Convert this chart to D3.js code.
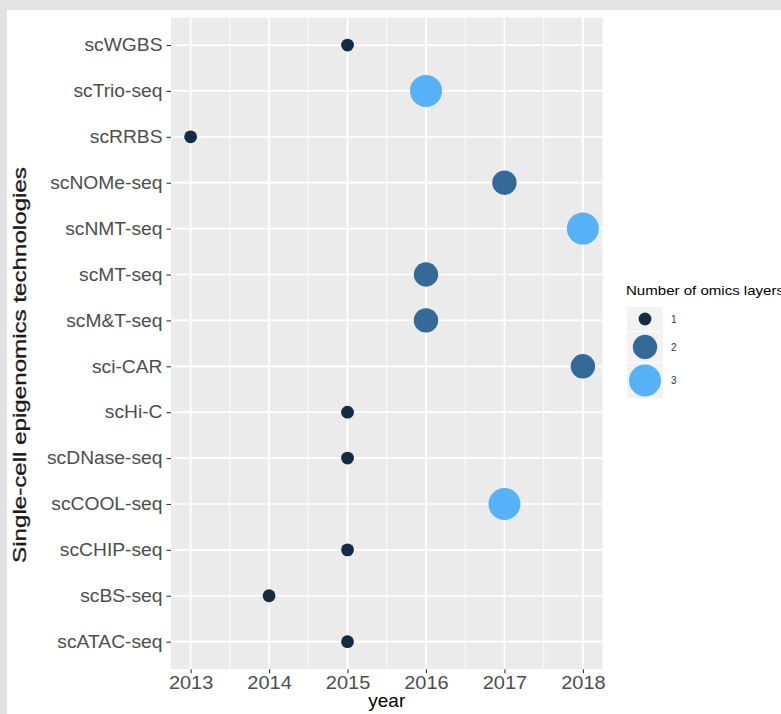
<!DOCTYPE html>
<html>
<head>
<meta charset="utf-8">
<script src="https://cdn.jsdelivr.net/npm/d3@7"></script>
<style>
  body { margin: 0; background: #ffffff; }
  svg { display: block; font-family: "Liberation Sans", Arial, sans-serif; }
</style>
</head>
<body>
<svg id="chart" width="781" height="714"></svg>
<script>
// ---- data ----
const technologies = ["scWGBS","scTrio-seq","scRRBS","scNOMe-seq","scNMT-seq","scMT-seq","scM&T-seq","sci-CAR","scHi-C","scDNase-seq","scCOOL-seq","scCHIP-seq","scBS-seq","scATAC-seq"];
const years        = [2015, 2016, 2013, 2017, 2018, 2016, 2016, 2018, 2015, 2015, 2017, 2015, 2014, 2015];
const omicsLayers  = [1, 3, 1, 2, 3, 2, 2, 2, 1, 1, 3, 1, 1, 1];
const xTicks = [2013, 2014, 2015, 2016, 2017, 2018];
const legendValues = [1, 2, 3];

const data = technologies.map((t, i) => ({ tech: t, year: years[i], layers: omicsLayers[i] }));

const svg = d3.select("#chart");

// frame (grey border of the picture)
svg.append("rect").attr("x", 0).attr("y", 0).attr("width", 781).attr("height", 10).attr("fill", "#e3e3e3");
svg.append("rect").attr("x", 0).attr("y", 0).attr("width", 7).attr("height", 714).attr("fill", "#e3e3e3");

const panel = { left: 171, right: 602.5, top: 17.5, bottom: 669.2 };

const x = d3.scaleLinear().domain([2012.75, 2018.25]).range([panel.left, panel.right]);
const y = d3.scalePoint().domain(technologies).range([panel.top, panel.bottom]).padding(0.6);
const area = d3.scaleLinear().domain([1, 3]).range([6.4 * 6.4, 16 * 16]);
const rad = v => Math.sqrt(area(v));
const color = d3.scaleLinear().domain([1, 3]).range(["#132B43", "#56B1F7"]).interpolate(d3.interpolateLab);

// panel background
svg.append("rect")
  .attr("x", panel.left).attr("y", panel.top)
  .attr("width", panel.right - panel.left).attr("height", panel.bottom - panel.top)
  .attr("fill", "#ebebeb");

const grid = svg.append("g");
// minor vertical grid
const minor = d3.range(2013.5, 2018, 1);
grid.selectAll("line.minor").data(minor).join("line")
  .attr("x1", d => x(d)).attr("x2", d => x(d))
  .attr("y1", panel.top).attr("y2", panel.bottom)
  .attr("stroke", "#ffffff").attr("stroke-width", 0.8);
// major vertical grid
grid.selectAll("line.vmajor").data(xTicks).join("line")
  .attr("x1", d => x(d)).attr("x2", d => x(d))
  .attr("y1", panel.top).attr("y2", panel.bottom)
  .attr("stroke", "#ffffff").attr("stroke-width", 1.7);
// major horizontal grid
grid.selectAll("line.hmajor").data(technologies).join("line")
  .attr("x1", panel.left).attr("x2", panel.right)
  .attr("y1", d => y(d)).attr("y2", d => y(d))
  .attr("stroke", "#ffffff").attr("stroke-width", 1.7);

// axes via d3 axis generators
const xAxis = svg.append("g")
  .attr("transform", `translate(0,${panel.bottom})`)
  .call(d3.axisBottom(x).tickValues(xTicks).tickFormat(d3.format("d")).tickSize(4).tickPadding(3));
xAxis.select(".domain").remove();
xAxis.selectAll(".tick line").attr("stroke", "#333333").attr("stroke-width", 1.1);
xAxis.selectAll(".tick text")
  .attr("fill", "#4d4d4d").attr("font-size", "18.5px")
  .attr("font-family", "Liberation Sans, Arial, sans-serif")
  .attr("dy", "0.71em")
  .attr("transform", "scale(1.08,1)");

const yAxis = svg.append("g")
  .attr("transform", `translate(${panel.left},0)`)
  .call(d3.axisLeft(y).tickSize(4.5).tickPadding(4));
yAxis.select(".domain").remove();
yAxis.selectAll(".tick line").attr("stroke", "#333333").attr("stroke-width", 1.1);
yAxis.selectAll(".tick text")
  .attr("fill", "#4d4d4d").attr("font-size", "18px")
  .attr("font-family", "Liberation Sans, Arial, sans-serif")
  .attr("transform", "translate(-8.5,0) scale(1.07,1)")
  .attr("x", null);

// points
svg.append("g").selectAll("circle").data(data).join("circle")
  .attr("cx", d => x(d.year))
  .attr("cy", d => y(d.tech))
  .attr("r", d => rad(d.layers))
  .attr("fill", d => color(d.layers));

// axis titles
svg.append("text")
  .attr("x", (panel.left + panel.right) / 2).attr("y", 707)
  .attr("text-anchor", "middle").attr("font-size", "19px").attr("fill", "#000")
  .text("year");

svg.append("text")
  .attr("transform", `translate(26,365) rotate(-90) scale(1.38,1)`)
  .attr("text-anchor", "middle").attr("font-size", "17.5px").attr("fill", "#1a1a1a")
  .attr("stroke", "#1a1a1a").attr("stroke-width", 0.3)
  .text("Single-cell epigenomics technologies");

// legend
const lg = svg.append("g");
lg.append("text")
  .attr("x", 626).attr("y", 295)
  .attr("font-size", "13px").attr("fill", "#000")
  .attr("textLength", 158).attr("lengthAdjust", "spacingAndGlyphs")
  .text("Number of omics layers");

const keyTops = [307, 332, 363];
const keyHeights = [24, 30, 35];
const keys = lg.selectAll("g.key").data(legendValues).join("g")
  .attr("transform", (d, i) => `translate(627,${keyTops[i]})`);
keys.append("rect")
  .attr("width", 36).attr("height", (d, i) => keyHeights[i])
  .attr("fill", "#f2f2f2");
keys.append("circle")
  .attr("cx", 18).attr("cy", (d, i) => keyHeights[i] / 2)
  .attr("r", d => rad(d)).attr("fill", d => color(d));
keys.append("text")
  .attr("x", 44).attr("y", (d, i) => keyHeights[i] / 2)
  .attr("dy", "0.36em").attr("font-size", "10px").attr("fill", "#333")
  .text(d => d);
</script>
</body>
</html>
